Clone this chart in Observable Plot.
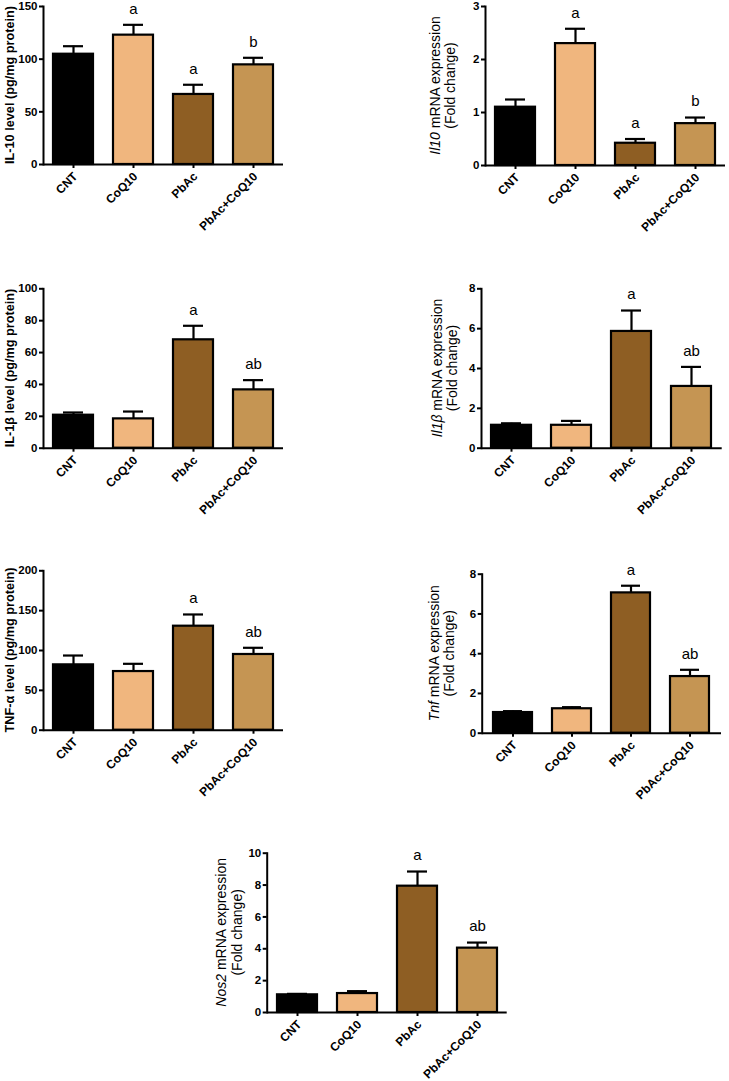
<!DOCTYPE html>
<html>
<head>
<meta charset="utf-8">
<script src="https://cdn.jsdelivr.net/npm/d3@7"></script>
<script src="https://cdn.jsdelivr.net/npm/@observablehq/plot@0.6"></script>
<style>
  html, body { margin: 0; padding: 0; background: #fff; }
  #root { position: relative; width: 729px; height: 1081px; font-family: "Liberation Sans", Arial, sans-serif; }
  #root svg { position: absolute; overflow: visible; }
</style>
</head>
<body>
<div id="root"></div>
<script>
// ---- data ----
const groups = ["CNT", "CoQ10", "PbAc", "PbAc+CoQ10"];
const barColors = ["#000000", "#F0B67E", "#8E5E23", "#C59553"];

const il10ProteinMean = [104.7, 122.8, 66.5, 94.6];
const il10ProteinSem = [7.6, 9.8, 9.2, 6.7];
const il10ProteinLetters = ["", "a", "a", "b"];
const il10ProteinTicks = [0, 50, 100, 150];

const il10mRNAMean = [1.10, 2.30, 0.42, 0.79];
const il10mRNASem = [0.145, 0.28, 0.08, 0.115];
const il10mRNALetters = ["", "a", "a", "b"];
const il10mRNATicks = [0, 1, 2, 3];

const il1bProteinMean = [20.7, 18.4, 68.0, 36.6];
const il1bProteinSem = [1.7, 4.6, 8.8, 6.1];
const il1bProteinLetters = ["", "", "a", "ab"];
const il1bProteinTicks = [0, 20, 40, 60, 80, 100];

const il1bmRNAMean = [1.15, 1.15, 5.86, 3.10];
const il1bmRNASem = [0.10, 0.22, 1.05, 0.98];
const il1bmRNALetters = ["", "", "a", "ab"];
const il1bmRNATicks = [0, 2, 4, 6, 8];

const tnfProteinMean = [82.0, 73.6, 130.5, 95.0];
const tnfProteinSem = [11.7, 9.7, 14.7, 8.4];
const tnfProteinLetters = ["", "", "a", "ab"];
const tnfProteinTicks = [0, 50, 100, 150, 200];

const tnfmRNAMean = [1.04, 1.23, 7.06, 2.85];
const tnfmRNASem = [0.07, 0.08, 0.36, 0.34];
const tnfmRNALetters = ["", "", "a", "ab"];
const tnfmRNATicks = [0, 2, 4, 6, 8];

const nos2mRNAMean = [1.11, 1.19, 7.93, 4.04];
const nos2mRNASem = [0.06, 0.15, 0.92, 0.35];
const nos2mRNALetters = ["", "", "a", "ab"];
const nos2mRNATicks = [0, 2, 4, 6, 8, 10];

// ---- panels ----
const FONT = "Liberation Sans, Arial, sans-serif";
const panels = [
  {mean: il10ProteinMean, sem: il10ProteinSem, letters: il10ProteinLetters, ticks: il10ProteinTicks,
   title: [[{t: "IL-10 level (pg/mg protein)"}]], bold: true,
   left: 0, top: 0, width: 300, height: 240, mL: 43, mR: 17, mT: 6, mB: 76, tx: [10]},
  {mean: il10mRNAMean, sem: il10mRNASem, letters: il10mRNALetters, ticks: il10mRNATicks,
   title: [[{t: "Il10", i: true}, {t: " mRNA expression"}], [{t: "(Fold change)"}]], bold: false,
   left: 400, top: 0, width: 329, height: 240, mL: 85, mR: 4, mT: 6, mB: 75, tx: [35, 50]},
  {mean: il1bProteinMean, sem: il1bProteinSem, letters: il1bProteinLetters, ticks: il1bProteinTicks,
   title: [[{t: "IL-1β level (pg/mg protein)"}]], bold: true,
   left: 0, top: 260, width: 300, height: 260, mL: 43, mR: 17, mT: 28.3, mB: 72.3, tx: [10]},
  {mean: il1bmRNAMean, sem: il1bmRNASem, letters: il1bmRNALetters, ticks: il1bmRNATicks,
   title: [[{t: "Il1β", i: true}, {t: " mRNA expression"}], [{t: "(Fold change)"}]], bold: false,
   left: 400, top: 260, width: 329, height: 260, mL: 81, mR: 7.3, mT: 28.3, mB: 72.3, tx: [37.5, 52.5]},
  {mean: tnfProteinMean, sem: tnfProteinSem, letters: tnfProteinLetters, ticks: tnfProteinTicks,
   title: [[{t: "TNF-α level (pg/mg protein)"}]], bold: true,
   left: 0, top: 540, width: 300, height: 260, mL: 43, mR: 17, mT: 30.3, mB: 70.3, tx: [10]},
  {mean: tnfmRNAMean, sem: tnfmRNASem, letters: tnfmRNALetters, ticks: tnfmRNATicks,
   title: [[{t: "Tnf", i: true}, {t: " mRNA expression"}], [{t: "(Fold change)"}]], bold: false,
   left: 400, top: 540, width: 329, height: 260, mL: 81.7, mR: 8, mT: 33.7, mB: 67.3, tx: [34, 49]},
  {mean: nos2mRNAMean, sem: nos2mRNASem, letters: nos2mRNALetters, ticks: nos2mRNATicks,
   title: [[{t: "Nos2", i: true}, {t: " mRNA expression"}], [{t: "(Fold change)"}]], bold: false,
   left: 180, top: 820, width: 340, height: 261, mL: 86.7, mR: 13.3, mT: 32.7, mB: 69, tx: [41, 56.7]}
];

const root = document.getElementById("root");

for (const p of panels) {
  const data = groups.map((g, i) => ({group: g, mean: p.mean[i], top: p.mean[i] + p.sem[i], letter: p.letters[i]}));
  const yMax = p.ticks[p.ticks.length - 1];
  const svg = Plot.plot({
    width: p.width,
    height: p.height,
    marginLeft: p.mL, marginRight: p.mR, marginTop: p.mT, marginBottom: p.mB,
    style: {fontFamily: FONT, color: "#000", background: "transparent", overflow: "visible"},
    x: {type: "band", domain: groups, paddingInner: 1/3, paddingOuter: 1/6, align: 0.5},
    y: {domain: [0, yMax]},
    color: {type: "ordinal", domain: groups, range: barColors},
    marks: [
      Plot.ruleX(data, {x: "group", y1: "mean", y2: "top", stroke: "#000", strokeWidth: 2.2}),
      Plot.tickY(data, {x: "group", y: "top", stroke: "#000", strokeWidth: 2.2, insetLeft: 10, insetRight: 10}),
      Plot.barY(data, {x: "group", y: "mean", fill: "group", stroke: "#000", strokeWidth: 2.2}),
      Plot.frame({anchor: "left", stroke: "#000", strokeWidth: 2}),
      Plot.ruleY([0], {stroke: "#000", strokeWidth: 2}),
      Plot.axisY({ticks: p.ticks, tickSize: 4, tickPadding: 2, fontSize: 11.5, fontWeight: "bold",
                  label: null, stroke: "#000", strokeWidth: 2, tickFormat: d => String(d)}),
      Plot.axisX({tickSize: 4, tickFormat: () => "", label: null, stroke: "#000", strokeWidth: 2}),
      Plot.text(groups, {x: d => d, y: () => 0, text: d => d, rotate: -45, textAnchor: "end",
                  lineAnchor: "middle", dx: 2, dy: 10, fontSize: 12, fontWeight: "bold", fill: "#000"}),
      Plot.text(data.filter(d => d.letter), {x: "group", y: "top", text: "letter", dy: -16,
                  fontSize: 15, fill: "#000"})
    ]
  });
  svg.style.left = p.left + "px";
  svg.style.top = p.top + "px";
  root.appendChild(svg);

  // y-axis title (multi-style text)
  const cy = (p.mT + (p.height - p.mB)) / 2;
  const sel = d3.select(svg);
  p.title.forEach((line, li) => {
    const t = sel.append("text")
      .attr("transform", `translate(${p.tx[li]},${cy}) rotate(-90)`)
      .attr("text-anchor", "middle")
      .attr("dy", "0.35em")
      .attr("font-family", FONT)
      .attr("font-size", p.bold ? 12.7 : 14)
      .attr("font-weight", p.bold ? "bold" : "normal")
      .attr("fill", "#000");
    line.forEach(part => {
      t.append("tspan").attr("font-style", part.i ? "italic" : "normal").text(part.t);
    });
  });
}
</script>
</body>
</html>
